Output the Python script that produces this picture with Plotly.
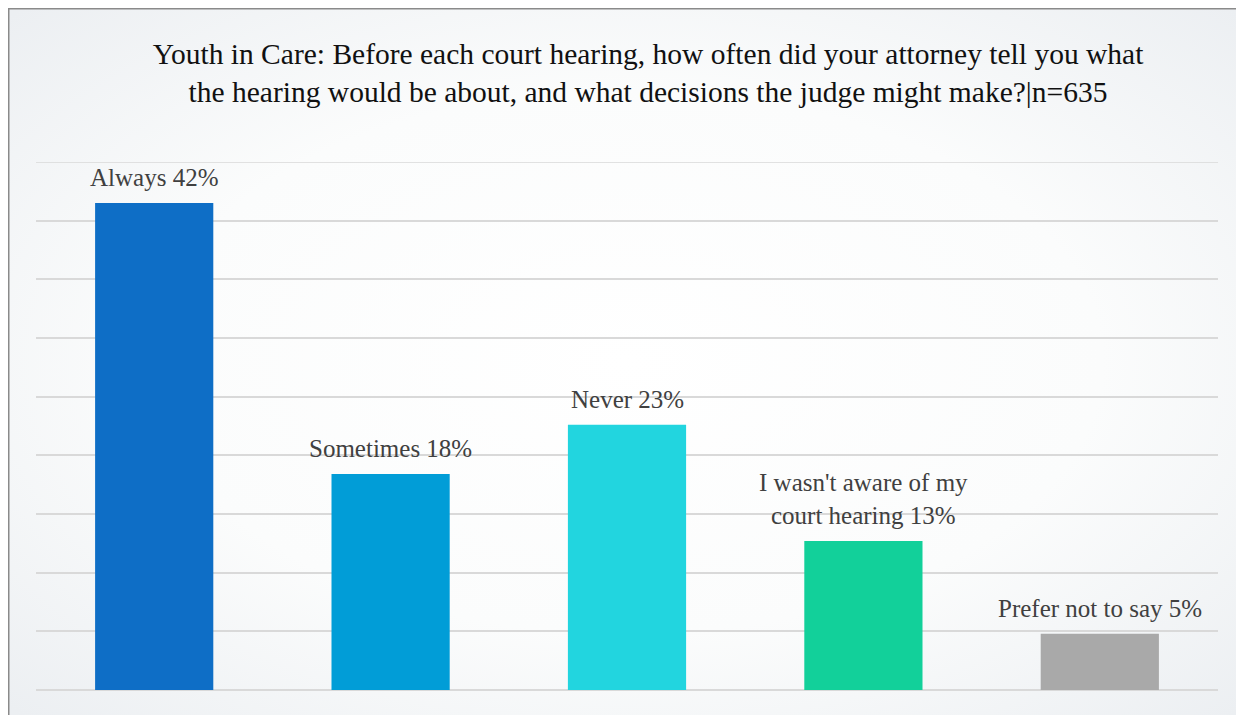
import base64
import plotly.graph_objects as go

# data
categories = ["Always", "Sometimes", "Never", "I wasn't aware of my court hearing", "Prefer not to say"]
label_text = ["Always 42%", "Sometimes 18%", "Never 23%", "I wasn't aware of my<br>court hearing 13%", "Prefer not to say 5%"]
percent = [41.5, 18.4, 22.6, 12.7, 4.8]
bar_colors = ["#0e6ec6", "#019dd7", "#22d5df", "#12d09a", "#a9a9a9"]

title = ("Youth in Care: Before each court hearing, how often did your attorney tell you what<br>"
         "the hearing would be about, and what decisions the judge might make?|n=635")

# page has an 8px body margin, so the figure is 8px smaller than the window
W, H = 1236, 707
L, R, T, B = 28, 26, 154, 25
pw, ph = W - L - R, H - T - B


def px_x(x):
    return (x - L) / pw


def px_y(y):
    return (H - B - y) / ph


# soft radial background, drawn as an inline svg
svg = ('<svg xmlns="http://www.w3.org/2000/svg" width="1236" height="707">'
       '<defs><radialGradient id="g" cx="50%" cy="50%" r="70%">'
       '<stop offset="0%" stop-color="#ffffff"/><stop offset="55%" stop-color="#fbfcfc"/>'
       '<stop offset="100%" stop-color="#eceff2"/></radialGradient></defs>'
       '<rect width="1236" height="707" fill="url(#g)"/></svg>')
bg_src = "data:image/svg+xml;base64," + base64.b64encode(svg.encode()).decode()

fig = go.Figure(go.Bar(
    x=categories,
    y=percent,
    marker=dict(color=bar_colors, line_width=0),
    hoverinfo="skip",
))

for cat, val, txt in zip(categories, percent, label_text):
    fig.add_annotation(
        x=cat, y=val, text=txt, showarrow=False,
        yanchor="bottom", yshift=10,
        font=dict(family="Liberation Serif", size=25, color="#404040"),
    )

fig.update_layout(
    width=W, height=H,
    margin=dict(l=L, r=R, t=T, b=B),
    paper_bgcolor="white",
    plot_bgcolor="rgba(0,0,0,0)",
    bargap=0.5,
    showlegend=False,
    title=dict(
        text=title,
        x=640 / W, xanchor="center",
        y=1 - 56 / H, yanchor="top",
        font=dict(family="Liberation Serif", size=29.5, color="#111111"),
    ),
    images=[dict(
        source=bg_src, xref="paper", yref="paper",
        x=px_x(1), y=px_y(1), sizex=px_x(W) - px_x(1), sizey=px_y(1) - px_y(H),
        xanchor="left", yanchor="top", sizing="stretch", layer="below",
    )],
    shapes=[
        dict(type="rect", xref="paper", yref="paper",
             x0=px_x(0.5), y0=px_y(H + 20), x1=px_x(W + 20), y1=px_y(0.5),
             line=dict(color="#8a8a8a", width=2), fillcolor="rgba(0,0,0,0)", layer="below"),
        # top gridline, which plotly drops at the range edge
        dict(type="line", xref="paper", yref="y", x0=0, x1=1, y0=45, y1=45,
             line=dict(color="#d9d9d9", width=1.5), layer="below"),
    ],
)
fig.update_yaxes(range=[0, 45], dtick=5, showticklabels=False, gridcolor="#d9d9d9", gridwidth=1.5,
                 zeroline=True, zerolinecolor="#d9d9d9", zerolinewidth=1.5, fixedrange=True)
fig.update_xaxes(showticklabels=False, showgrid=False, fixedrange=True)

fig.write_html("out.html")
